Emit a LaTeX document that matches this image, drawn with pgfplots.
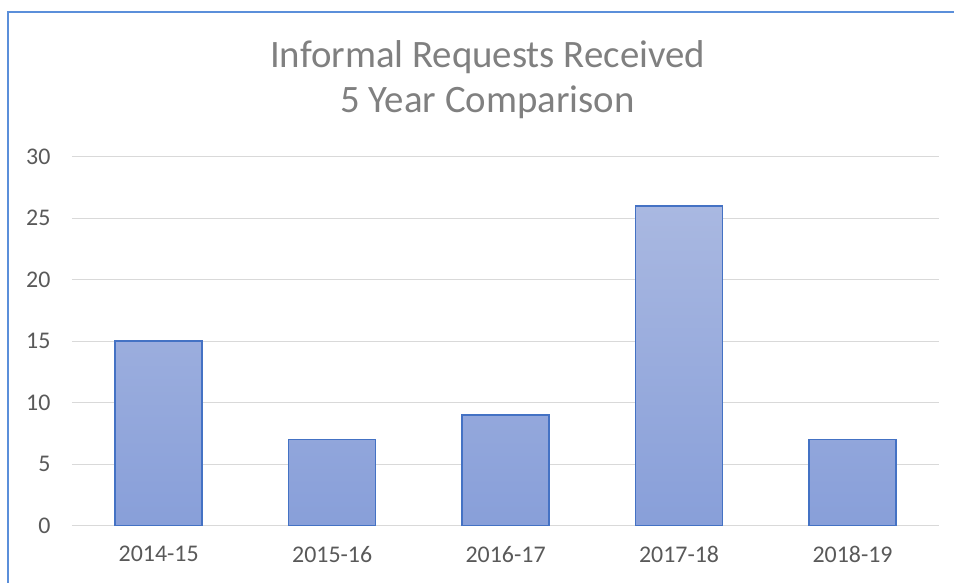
\documentclass[border=0pt]{standalone}
\usepackage{pgfplots}
\pgfplotsset{compat=1.18}
\usepackage{fontspec}
\setmainfont{Carlito}
\definecolor{barline}{HTML}{4472C4}
\definecolor{bartop}{HTML}{A9B8E1}
\definecolor{barbot}{HTML}{889FD9}
\definecolor{gridc}{HTML}{D9D9D9}
\definecolor{tickc}{HTML}{595959}
\definecolor{titlec}{HTML}{808080}
\definecolor{framec}{HTML}{5B8FDA}
\begin{document}
\begin{tikzpicture}[x=1bp,y=1bp]
  \path (0,0) rectangle (955,583);
  \draw[framec, line width=1.5bp] (8,0) -- (8,571) -- (955,571);
  \node[titlec, font=\fontsize{39}{45}\selectfont, align=center] at (488,503) {Informal Requests Received\\5 Year Comparison};
  \begin{axis}[
      at={(72bp,57bp)},
      anchor=south west,
      scale only axis,
      width=868bp,
      height=369bp,
      ymin=0, ymax=30,
      ytick={0,5,...,30},
      xmin=-0.5, xmax=4.5,
      xtick=data,
      xticklabels={2014-15,2015-16,2016-17,2017-18,2018-19},
      axis line style={draw=none},
      major tick length=0pt,
      ymajorgrids=true,
      grid style={gridc, line width=1.2bp},
      tick label style={tickc, font=\fontsize{24}{28}\selectfont},
      /pgf/number format/assume math mode=true,
      yticklabel style={xshift=-18bp},
      xticklabel style={yshift=-17bp},
      bar width=87bp,
    ]
    \addplot[ybar, draw=barline, line width=1.5bp, top color=bartop, bottom color=barbot] coordinates {
      (0,15) (1,7) (2,9) (3,26) (4,7)
    };
  \end{axis}
\end{tikzpicture}
\end{document}
